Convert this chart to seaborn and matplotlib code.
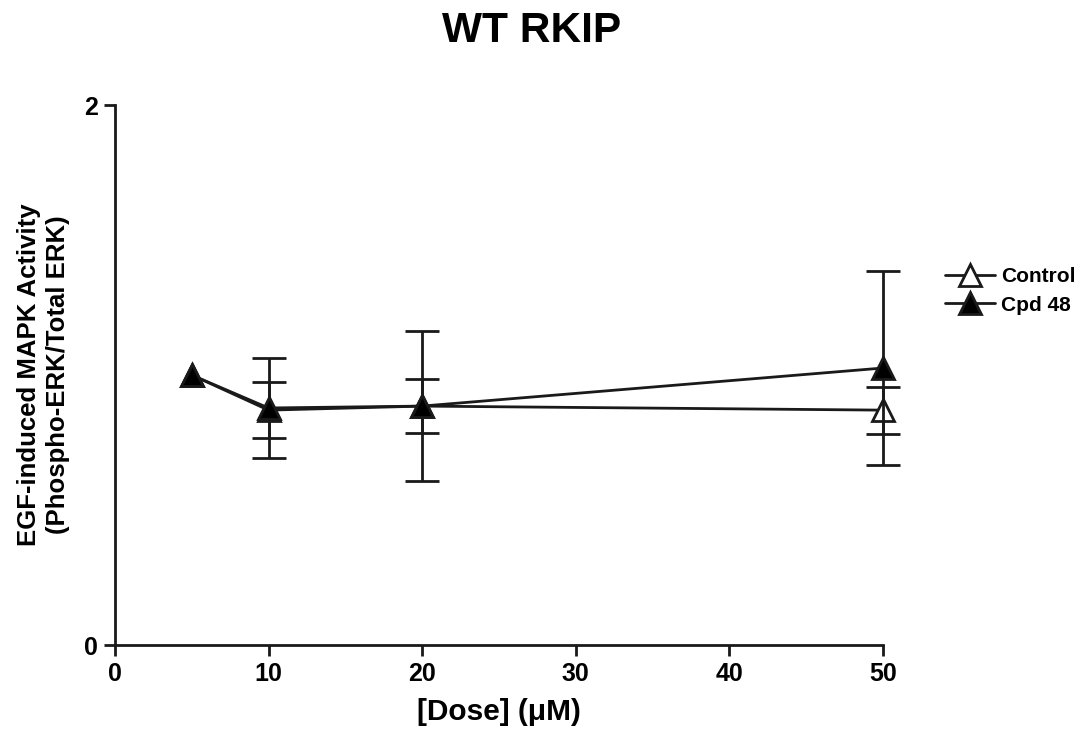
import matplotlib
matplotlib.use("Agg")
import matplotlib.pyplot as plt
import seaborn as sns
import numpy as np
import pandas as pd

dose = [5, 10, 20, 50]
control_mean = [1.0, 0.87, 0.885, 0.87]
control_sem = [0.0, 0.104, 0.10, 0.087]
cpd48_mean = [1.0, 0.878, 0.885, 1.026]
cpd48_sem = [0.0, 0.185, 0.278, 0.36]
series_names = ["Control", "Cpd 48"]
x_ticks = [0, 10, 20, 30, 40, 50]
y_ticks = [0, 2]

sns.set_theme(style="ticks")
plt.rcParams['font.family'] = ['Liberation Sans', 'DejaVu Sans']
plt.rcParams['font.weight'] = 'bold'
plt.rcParams['text.color'] = 'black'
plt.rcParams['axes.labelcolor'] = 'black'
plt.rcParams['xtick.color'] = '#1a1a1a'
plt.rcParams['ytick.color'] = '#1a1a1a'
plt.rcParams['xtick.labelcolor'] = 'black'
plt.rcParams['ytick.labelcolor'] = 'black'

fig = plt.figure(figsize=(10.84, 7.33), dpi=100)
ax = fig.add_axes([0.106, 0.12, 0.7085, 0.7367])

df = pd.DataFrame({
    "dose": dose * 2,
    "value": control_mean + cpd48_mean,
    "sem": control_sem + cpd48_sem,
    "group": [series_names[0]] * len(dose) + [series_names[1]] * len(dose),
})

styles = {
    "Control": dict(markerfacecolor="white", zorder=3),
    "Cpd 48": dict(markerfacecolor="black", zorder=4),
}
for name in series_names:
    sub = df[df["group"] == name]
    eb = sub[sub["sem"] > 0]
    ax.errorbar(eb["dose"], eb["value"], yerr=eb["sem"], fmt="none",
                ecolor="#1a1a1a", elinewidth=2, capsize=12, capthick=2,
                clip_on=False, zorder=styles[name]["zorder"] - 1)
    sns.lineplot(data=sub, x="dose", y="value", ax=ax, color="#1a1a1a",
                 marker="^", markersize=16, markeredgecolor="#1a1a1a",
                 markeredgewidth=2, linewidth=2, label=name, clip_on=False,
                 markerfacecolor=styles[name]["markerfacecolor"],
                 zorder=styles[name]["zorder"], errorbar=None)

ax.set_xlim(0, 50)
ax.set_ylim(0, 2)
ax.set_xticks(x_ticks)
ax.set_yticks(y_ticks)
ax.tick_params(axis='both', labelsize=18, width=2, length=8, pad=4)
for lab in ax.get_xticklabels() + ax.get_yticklabels():
    lab.set_fontweight('bold')
for s in ["top", "right"]:
    ax.spines[s].set_visible(False)
for s in ["left", "bottom"]:
    ax.spines[s].set_linewidth(2)
    ax.spines[s].set_color("#1a1a1a")

ax.set_xlabel("[Dose] (\u03bcM)", fontsize=21.5, fontweight='bold', labelpad=9)
ax.set_ylabel("EGF-induced MAPK Activity\n(Phospho-ERK/Total ERK)", fontsize=18.5,
              fontweight='bold', labelpad=10, linespacing=1.3)

fig.text(0.49, 0.958, "WT RKIP", ha="center", va="center", fontsize=30.5, fontweight='bold')

leg = ax.legend(loc="upper left", bbox_to_anchor=(1.07, 0.715), frameon=False,
                fontsize=15, handlelength=2.4, handletextpad=0.3, labelspacing=0.45,
                borderaxespad=0)
for t in leg.get_texts():
    t.set_fontweight('bold')

fig.savefig("out.png", dpi=100)
